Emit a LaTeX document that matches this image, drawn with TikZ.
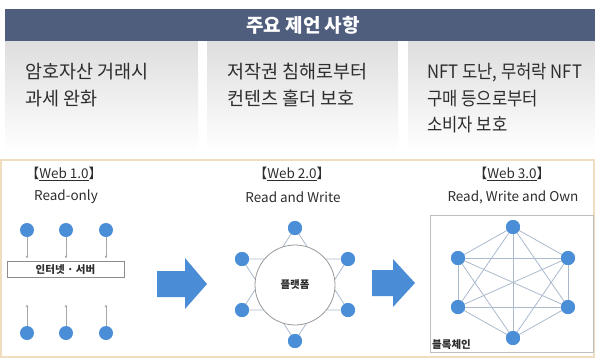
\documentclass[tikz,border=0pt]{standalone}
\usepackage{fontspec}
\setmainfont{Noto Sans CJK KR}
\newcommand\krb{\bfseries}
\usetikzlibrary{arrows.meta,shapes.geometric}
\definecolor{hdr}{RGB}{79,94,124}
\definecolor{dot}{RGB}{74,142,216}
\definecolor{bigarr}{RGB}{74,140,214}
\definecolor{txt}{RGB}{45,45,45}
\definecolor{edge}{RGB}{170,186,204}
\definecolor{tan}{RGB}{240,220,190}
\tikzset{
  gbox/.style={draw=none,top color=black!13,bottom color=white},
  boxtxt/.style={anchor=west,align=left,font=\fontsize{18.5}{26.5}\selectfont,text=txt,inner sep=0pt},
  dotn/.style={circle,fill=dot,draw=none,minimum size=14pt,inner sep=0pt},
  ttl/.style={font=\fontsize{13.5}{14}\selectfont,text=txt,inner sep=0pt},
  web1line/.style={draw=black!35,line width=0.5pt,-{Stealth[length=2.5pt,width=3pt]}},
  netline/.style={draw=edge,line width=0.8pt},
  bigarrow/.style={fill=bigarr,draw=none}
}
\begin{document}
\begin{tikzpicture}[x=1pt,y=-1pt]
\useasboundingbox (0,0) rectangle (595,360);
% header
\fill[hdr] (5,9) rectangle (595,41);
\node[font=\krb\fontsize{19}{20}\selectfont,text=white] (title) at (303,25) {주요 제언 사항};
% gradient boxes
\shade[gbox] (5,41) rectangle (198,152);
\shade[gbox] (207,41) rectangle (398,152);
\shade[gbox] (408,41) rectangle (595,152);
\node[boxtxt] (t1) at (25,85) {암호자산 거래시\\과세 완화};
\node[boxtxt] (t2) at (227,85) {저작권 침해로부터\\컨텐츠 홀더 보호};
\node[boxtxt,font=\addfontfeature{FakeStretch=0.9}\fontsize{18.5}{26.5}\selectfont] (t3) at (427,98.5) {NFT 도난, 무허락 NFT\\구매 등으로부터\\소비자 보호};
% lower panel
\draw[tan,line width=1.5pt] (1,160) rectangle (594,357);
% Web 1.0
\node[ttl] (w1) at (64,174) {【\underline{Web 1.0}】};
\node[ttl] (r1) at (66,197) {Read-only};
\node[draw=black!45,line width=0.6pt,minimum width=117pt,minimum height=16pt,inner sep=0pt,font=\krb\fontsize{10.5}{11}\selectfont,text=txt] (srv) at (65.5,269.5) {인터넷 · 서버};
\foreach \i/\x in {1/27,2/66,3/106}{
  \node[dotn] (u\i) at (\x,230) {};
  \node[dotn] (d\i) at (\x,333) {};
  \draw[web1line] (u\i) -- ([yshift=3pt]u\i |- srv.north);
  \draw[web1line] (d\i) -- ([yshift=-27pt]d\i |- srv.south);
}
% big arrows
\fill[bigarrow] (157,271) -- (185,271) -- (185,258) -- (207,284) -- (185,309) -- (185,297) -- (157,297) -- cycle;
\fill[bigarrow] (372,270) -- (393,270) -- (393,259) -- (415,283) -- (393,307) -- (393,296) -- (372,296) -- cycle;
% Web 2.0
\node[ttl] (w2) at (292,174) {【\underline{Web 2.0}】};
\node[ttl] (r2) at (293,197) {Read and Write};
\coordinate (c2) at (295,285);
\node[dotn] (a1) at (295,228) {};
\node[dotn] (a2) at (348,259) {};
\node[dotn] (a3) at (348,310) {};
\node[dotn] (a4) at (295,341) {};
\node[dotn] (a5) at (242,310) {};
\node[dotn] (a6) at (242,259) {};
\draw[netline] (a1.center) -- (a3.center) -- (a5.center) -- cycle;
\draw[netline] (a4.center) -- (a6.center) -- (a2.center) -- cycle;
\foreach \i in {1,...,6}{\node[dotn] at (a\i) {};}
\node[circle,draw=black!40,fill=white,line width=0.8pt,minimum size=80pt,inner sep=0pt,font=\krb\fontsize{10.5}{11}\selectfont,text=txt] (plat) at (c2) {플랫폼};
% Web 3.0
\node[ttl] (w3) at (512,174) {【\underline{Web 3.0}】};
\node[ttl] (r3) at (513,197) {Read, Write and Own};
\node[draw=black!25,line width=0.6pt,minimum width=163pt,minimum height=137pt,inner sep=0pt] (chainbox) at (511.5,283.5) {};
\node[dotn] (b1) at (513,227) {};
\node[dotn] (b2) at (568,258) {};
\node[dotn] (b3) at (568,307) {};
\node[dotn] (b4) at (513,338) {};
\node[dotn] (b5) at (458,307) {};
\node[dotn] (b6) at (458,258) {};
\foreach \i in {1,...,6}{\foreach \j in {1,...,6}{\ifnum\i<\j \draw[netline] (b\i.center) -- (b\j.center);\fi}}
\foreach \i in {1,...,6}{\node[dotn] at (b\i) {};}
\node[anchor=west,font=\krb\fontsize{10.5}{11}\selectfont,text=txt,inner sep=0pt] (bc) at (432,345) {블록체인};
\end{tikzpicture}
\end{document}
